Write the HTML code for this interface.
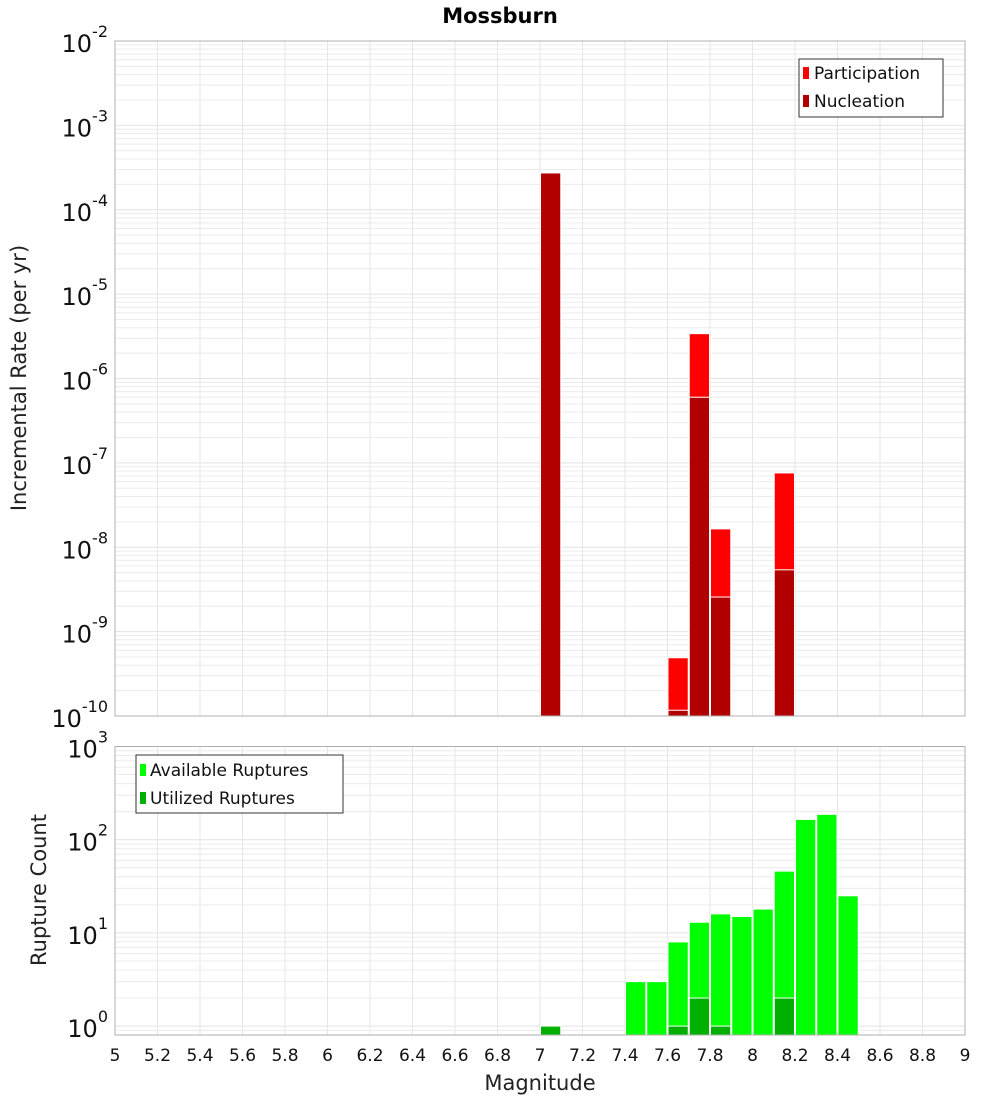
<!DOCTYPE html>
<html><head><meta charset="utf-8"><style>
html,body{margin:0;padding:0;background:#fff;}
svg{display:block;font-family:"DejaVu Sans","Liberation Sans",sans-serif;}
</style></head><body>
<svg id="chart" width="1000" height="1100" xmlns="http://www.w3.org/2000/svg">
<text x="500" y="23" text-anchor="middle" font-size="21" font-weight="bold">Mossburn</text>
<g id="gtop"></g>
<g id="gbot"></g>
<text transform="translate(26,378) rotate(-90)" text-anchor="middle" font-size="21" fill="#222">Incremental Rate (per yr)</text>
<text transform="translate(46,890) rotate(-90)" text-anchor="middle" font-size="21" fill="#222">Rupture Count</text>
<text x="540" y="1090" text-anchor="middle" font-size="21" fill="#222">Magnitude</text>
<g>
<rect x="799" y="59" width="144" height="58" fill="#fff" stroke="#333"/>
<rect x="803" y="67" width="6" height="12" fill="#ff0000"/>
<text x="814" y="79" font-size="17" fill="#111">Participation</text>
<rect x="803" y="95" width="6" height="12" fill="#b20000"/>
<text x="814" y="107" font-size="17" fill="#111">Nucleation</text>
</g>
<g>
<rect x="136" y="755" width="207" height="58" fill="#fff" stroke="#333"/>
<rect x="140" y="764" width="6" height="12" fill="#00ff00"/>
<text x="150" y="776" font-size="17" fill="#111">Available Ruptures</text>
<rect x="140" y="792" width="6" height="12" fill="#00b000"/>
<text x="150" y="804" font-size="17" fill="#111">Utilized Ruptures</text>
</g>
</svg>
<script>
const magBins=[7.05,7.65,7.75,7.85,8.15];
const participation=[2.73e-4,4.9e-10,3.4e-6,1.65e-8,7.6e-8];
const nucleation=[2.73e-4,1.17e-10,6.0e-7,2.57e-9,5.4e-9];
const countBins=[7.05,7.45,7.55,7.65,7.75,7.85,7.95,8.05,8.15,8.25,8.35,8.45];
const available=[1,3,3,8,13,16,15,18,46,165,187,25];
const utilizedBins=[7.05,7.65,7.75,7.85,8.15];
const utilized=[1,1,2,1,2];
const xTicks=[5,5.2,5.4,5.6,5.8,6,6.2,6.4,6.6,6.8,7,7.2,7.4,7.6,7.8,8,8.2,8.4,8.6,8.8,9];
const topExps=[-2,-3,-4,-5,-6,-7,-8,-9,-10];
const botExps=[3,2,1,0];

const NS='http://www.w3.org/2000/svg';
const X0=115,X1=965;
const xs=m=>X0+(m-5)/4*(X1-X0);
function mk(p,t,a){const e=document.createElementNS(NS,t);for(const k in a)e.setAttribute(k,a[k]);p.appendChild(e);return e;}
function panel(g,y0,y1,yTopExp,pxPerDec,minExp,maxExp){
  const ys=v=>y0+(yTopExp-Math.log10(v))*pxPerDec;
  for(let e=minExp;e<maxExp;e++){for(let k=1;k<10;k++){const y=ys(k*Math.pow(10,e));if(y<y0-0.5||y>y1+0.5)continue;
    const l=mk(g,'line',{x1:X0,x2:X1,y1:y,y2:y,stroke:k==1?'#e2e2e2':'#ececec','stroke-width':1});
    
    }}
  xTicks.forEach(t=>{const x=xs(t);const l=mk(g,'line',{x1:x,x2:x,y1:y0,y2:y1,stroke:'#e6e6e6','stroke-width':1});
    
    });
  return ys;
}
const gTop=document.getElementById('gtop'),gBot=document.getElementById('gbot');
const T0=41,T1=716,TD=(T1-T0)/8;
const ysT=panel(gTop,T0,T1,-2,TD,-10,-2);
function bar(g,m,v,ys,base,fill,name){
  const x=xs(m-0.05),w=xs(m+0.05)-x,y=ys(v);
  const r=mk(g,'rect',{x:x+0.5,y:y,width:w-1,height:Math.max(0,base-y),fill:fill,stroke:'#fff','stroke-width':1});
  
  
}
magBins.forEach((m,i)=>bar(gTop,m,participation[i],ysT,T1,'#ff0000','participation-bar'));
magBins.forEach((m,i)=>bar(gTop,m,nucleation[i],ysT,T1,'#b20000','nucleation-bar'));
mk(gTop,'rect',{x:X0,y:T0,width:X1-X0,height:T1-T0,fill:'none',stroke:'#b0b0b0'});
topExps.forEach(e=>{const y=ysT(Math.pow(10,e));
  const t=mk(gTop,'text',{x:108,y:y+11,'text-anchor':'end','font-size':24,fill:'#111'});
  
  
  t.textContent='10';const s=mk(t,'tspan',{dy:-15,'font-size':16});s.textContent=String(e);
});
const B0=746.5,B1=1035,BD=93.2;
const ysB=panel(gBot,B0,B1,3,BD,-1,3);
countBins.forEach((m,i)=>bar(gBot,m,available[i],ysB,B1,'#00ff00','available-bar'));
utilizedBins.forEach((m,i)=>bar(gBot,m,utilized[i],ysB,B1,'#00b000','utilized-bar'));
mk(gBot,'rect',{x:X0,y:B0,width:X1-X0,height:B1-B0,fill:'none',stroke:'#b0b0b0'});
botExps.forEach(e=>{const y=ysB(Math.pow(10,e));
  const t=mk(gBot,'text',{x:108,y:y+11,'text-anchor':'end','font-size':24,fill:'#111'});
  
  
  t.textContent='10';const s=mk(t,'tspan',{dy:-15,'font-size':16});s.textContent=String(e);
});
xTicks.forEach(v=>{const t=mk(gBot,'text',{x:xs(v),y:1061,'text-anchor':'middle','font-size':17,fill:'#111'});
  
  
  t.textContent=String(v);});
</script>
</body></html>
